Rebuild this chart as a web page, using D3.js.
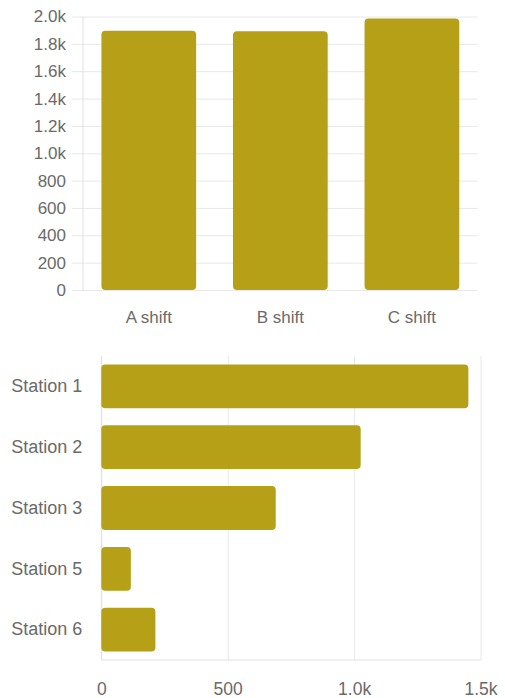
<!DOCTYPE html>
<html>
<head>
<meta charset="utf-8">
<script src="https://cdn.jsdelivr.net/npm/d3@7"></script>
<style>
  body { margin: 0; background: #fff; }
</style>
</head>
<body>
<svg id="chart" width="505" height="698"></svg>
<script>
// shift totals
let shifts = ['A shift', 'B shift', 'C shift']
let shiftValues = [1895, 1893, 1985]
let shiftTicks = [0, 200, 400, 600, 800, 1000, 1200, 1400, 1600, 1800, 2000]

// station totals
let stations = ['Station 1', 'Station 2', 'Station 3', 'Station 5', 'Station 6']
let stationValues = [1452, 1026, 690, 117, 214]
let stationTicks = [0, 500, 1000, 1500]

let barColor = '#b5a018'
let gridColor = '#e8e8e8'
let fontFamily = '"Liberation Sans", Arial, Helvetica, sans-serif'

function fmt(v) {
  return v >= 1000 ? (v / 1000).toFixed(1) + 'k' : String(v)
}

function styleText(sel, size) {
  sel.selectAll('text')
    .style('font-size', size)
    .style('font-family', fontFamily)
    .attr('fill', '#6a6a6a')
}

let svg = d3.select('#chart')

// ---- top chart: vertical bars ----
let left1 = 83, right1 = 477.7, top1 = 16.5, bottom1 = 290

let x1 = d3.scaleBand().domain(shifts).range([left1, right1])
  .paddingInner(0.28).paddingOuter(0.14)
let y1 = d3.scaleLinear().domain([0, 2000]).range([bottom1, top1])

// horizontal grid + y labels
let yAxis1 = svg.append('g')
  .attr('transform', 'translate(72,0)')
  .call(d3.axisLeft(y1).tickValues(shiftTicks).tickFormat(fmt)
    .tickSize(-(right1 - 72)).tickPadding(6))
yAxis1.select('.domain').remove()
yAxis1.selectAll('line').attr('stroke', gridColor)
styleText(yAxis1, '17px')

// y axis line
svg.append('line')
  .attr('x1', left1).attr('x2', left1)
  .attr('y1', top1).attr('y2', bottom1)
  .attr('stroke', '#e0e0e0')

svg.append('g')
  .selectAll('rect')
  .data(shiftValues)
  .enter()
  .append('rect')
  .attr('x', function (d, i) { return x1(shifts[i]) })
  .attr('y', function (d) { return y1(d) })
  .attr('width', x1.bandwidth())
  .attr('height', function (d) { return bottom1 - y1(d) })
  .attr('rx', 4)
  .style('fill', barColor)

let xAxis1 = svg.append('g')
  .attr('transform', 'translate(0,' + bottom1 + ')')
  .call(d3.axisBottom(x1).tickSize(0).tickPadding(21))
xAxis1.select('.domain').remove()
styleText(xAxis1, '17px')

// ---- bottom chart: horizontal bars ----
let left2 = 101.3, right2 = 480.5, top2 = 356, bottom2 = 660

let x2 = d3.scaleLinear().domain([0, 1500]).range([left2, right2])
let y2 = d3.scaleBand().domain(stations).range([top2, bottom2])
  .paddingInner(0.28).paddingOuter(0.14)

let xAxis2 = svg.append('g')
  .attr('transform', 'translate(0,' + bottom2 + ')')
  .call(d3.axisBottom(x2).tickValues(stationTicks).tickFormat(fmt)
    .tickSize(-(bottom2 - top2)).tickPadding(23))
xAxis2.select('.domain').remove()
xAxis2.selectAll('line').attr('stroke', gridColor)
styleText(xAxis2, '17.5px')

// axis lines
svg.append('line')
  .attr('x1', left2).attr('x2', right2)
  .attr('y1', bottom2).attr('y2', bottom2)
  .attr('stroke', '#e0e0e0')
svg.append('line')
  .attr('x1', left2).attr('x2', left2)
  .attr('y1', top2).attr('y2', bottom2)
  .attr('stroke', '#e0e0e0')

svg.append('g')
  .selectAll('rect')
  .data(stationValues)
  .enter()
  .append('rect')
  .attr('x', left2)
  .attr('y', function (d, i) { return y2(stations[i]) })
  .attr('width', function (d) { return x2(d) - left2 })
  .attr('height', y2.bandwidth())
  .attr('rx', 4)
  .style('fill', barColor)

let yAxis2 = svg.append('g')
  .attr('transform', 'translate(' + left2 + ',0)')
  .call(d3.axisLeft(y2).tickSize(0).tickPadding(19))
yAxis2.select('.domain').remove()
styleText(yAxis2, '18px')
</script>
</body>
</html>
